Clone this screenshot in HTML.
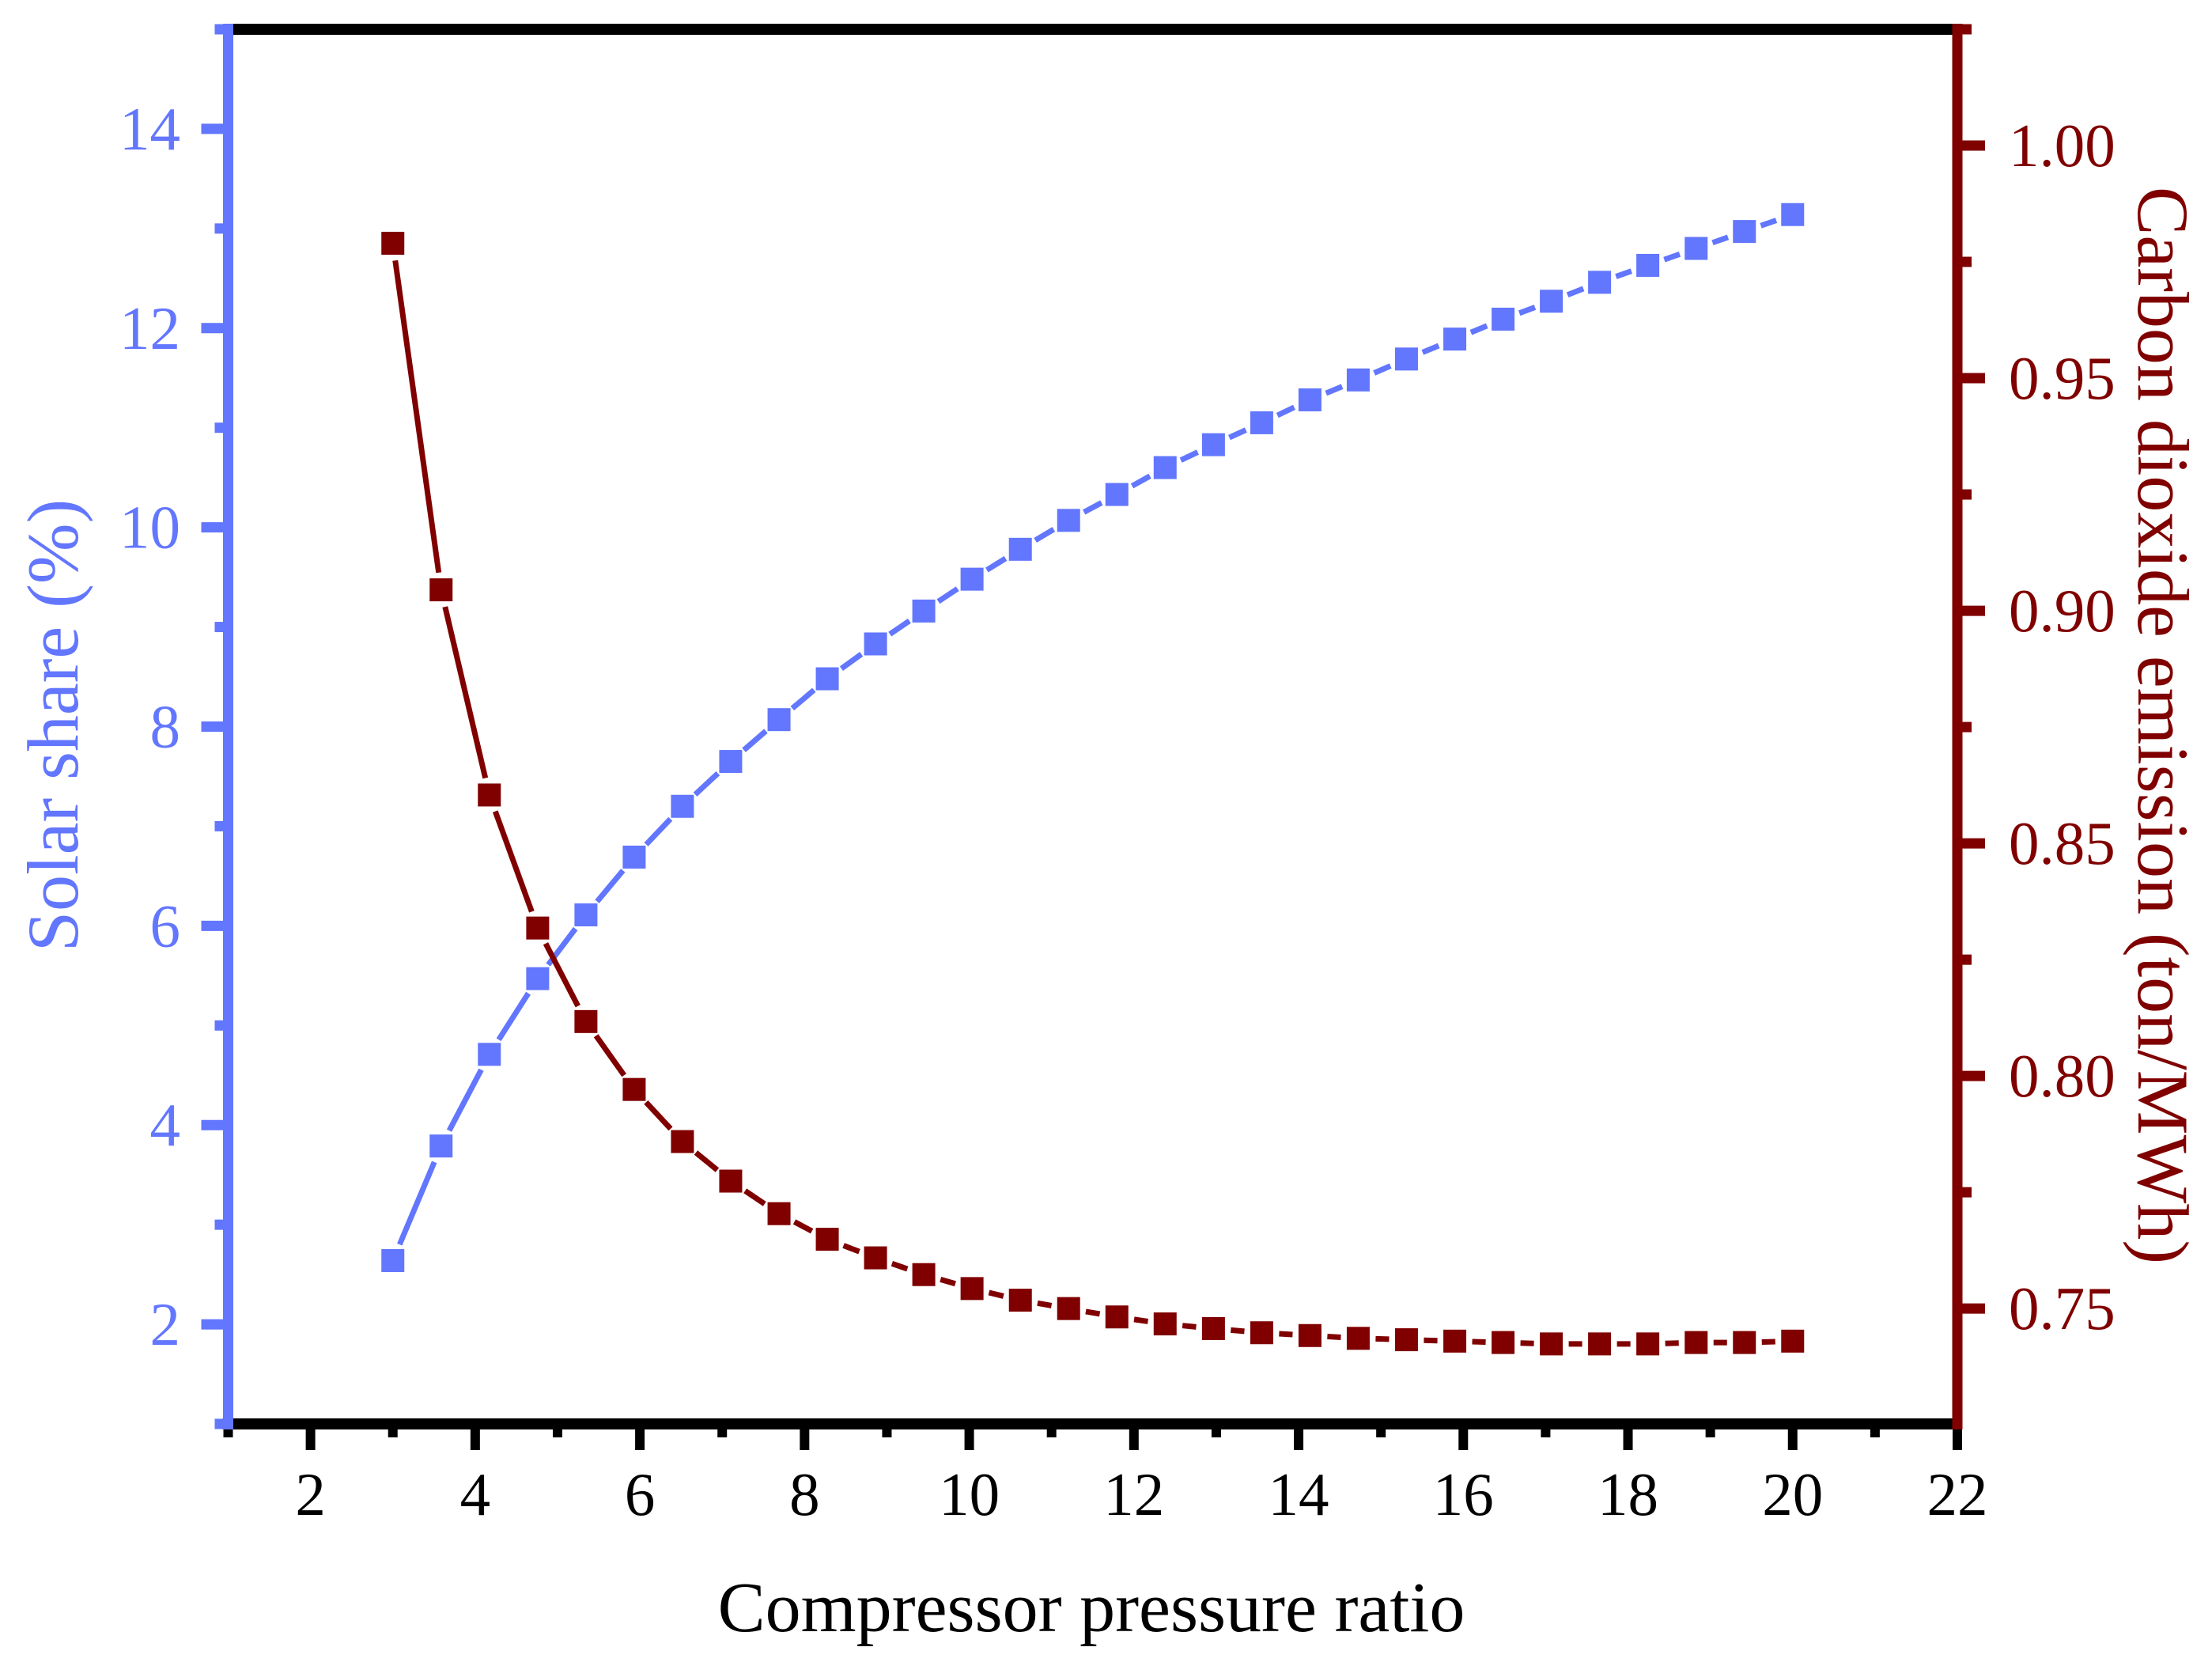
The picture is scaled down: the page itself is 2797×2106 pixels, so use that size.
<!DOCTYPE html>
<html><head><meta charset="utf-8"><style>
html,body{margin:0;padding:0;background:#fff}
svg{display:block}
text{font-family:"Liberation Serif",serif}
</style></head><body>
<svg id="chart" xmlns="http://www.w3.org/2000/svg" width="2797" height="2106" viewBox="0 0 2797 2106">
<g id="axes"></g>
<g id="series"></g>
<text x="1380" y="2062" font-size="90" text-anchor="middle" fill="#000">Compressor pressure ratio</text>
<text transform="translate(98,917) rotate(-90)" font-size="92" text-anchor="middle" fill="#6276fe">Solar share (%)</text>
<text transform="translate(2704,917) rotate(90)" font-size="92" text-anchor="middle" fill="#800000">Carbon dioxide emission (ton/MWh)</text>
</svg>
<script>
const xTicks = [2,4,6,8,10,12,14,16,18,20,22];
const leftTicks = [2,4,6,8,10,12,14];
const rightTicks = [0.75,0.80,0.85,0.90,0.95,1.00];
const pressureRatio = [3,3.586,4.172,4.759,5.345,5.931,6.517,7.103,7.690,8.276,8.862,9.448,10.034,10.621,11.207,11.793,12.379,12.966,13.552,14.138,14.724,15.310,15.897,16.483,17.069,17.655,18.241,18.828,19.414,20];
const solarShare = [2.64,3.79,4.71,5.47,6.11,6.69,7.20,7.65,8.07,8.48,8.83,9.16,9.48,9.78,10.07,10.33,10.60,10.83,11.05,11.28,11.48,11.69,11.89,12.09,12.27,12.46,12.63,12.80,12.97,13.14];
const co2Emission = [0.979,0.9045,0.8604,0.8318,0.8117,0.7971,0.7859,0.7774,0.7704,0.7649,0.7609,0.7573,0.7543,0.7518,0.7500,0.7482,0.7467,0.7457,0.7448,0.7442,0.7436,0.7433,0.7430,0.7427,0.7424,0.7424,0.7424,0.7427,0.7427,0.7430];

const NS='http://www.w3.org/2000/svg';
const X0=288.5, X1=2475, XMIN=1, XMAX=22;
const Y0=1800, Y1=37;
const LMIN=1, LMAX=15, RMIN=0.7252, RMAX=1.025;
const BLUE='#6276fe', RED='#800000';
function sx(v){return X0+(v-XMIN)/(XMAX-XMIN)*(X1-X0);}
function sl(v){return Y0-(v-LMIN)/(LMAX-LMIN)*(Y0-Y1);}
function sr(v){return Y0-(v-RMIN)/(RMAX-RMIN)*(Y0-Y1);}
function mk(tag,attrs,parent){const e=document.createElementNS(NS,tag);for(const k in attrs)e.setAttribute(k,attrs[k]);parent.appendChild(e);return e;}
const axes=document.getElementById('axes');
const series=document.getElementById('series');

let e;
e=mk('line',{x1:X0,y1:Y1,x2:X1,y2:Y1,stroke:'#000','stroke-width':14},axes);


e=mk('line',{x1:X0-7,y1:Y0,x2:X1,y2:Y0,stroke:'#000','stroke-width':14},axes);


e=mk('line',{x1:X0,y1:Y1-7,x2:X0,y2:Y0+7,stroke:BLUE,'stroke-width':13},axes);


e=mk('line',{x1:X1,y1:Y1-7,x2:X1,y2:Y0+7,stroke:RED,'stroke-width':13},axes);



for(let v=XMIN; v<=XMAX; v++){
  const major = xTicks.indexOf(v)>=0;
  e=mk('line',{x1:sx(v),y1:Y0+7,x2:sx(v),y2:Y0+(major?33:17),stroke:'#000','stroke-width':12},axes);
  
  
}
xTicks.forEach(v=>{
  e=mk('text',{x:sx(v),y:1915,'font-size':77,'text-anchor':'middle',fill:'#000'},axes);
  e.textContent=v;
  
  
});
for(let v=LMIN; v<=LMAX; v++){
  const major = leftTicks.indexOf(v)>=0;
  e=mk('line',{x1:X0-6,y1:sl(v),x2:X0-(major?34:17),y2:sl(v),stroke:BLUE,'stroke-width':13},axes);
  
  
}
leftTicks.forEach(v=>{
  e=mk('text',{x:228,y:sl(v)+26,'font-size':77,'text-anchor':'end',fill:BLUE},axes);
  e.textContent=v;
  
  
});
for(let i=0;i<=11;i++){
  const v=0.75+i*0.025;
  if(v>RMAX) break;
  const major = i%2===0;
  e=mk('line',{x1:X1+6,y1:sr(v),x2:X1+(major?35:18),y2:sr(v),stroke:RED,'stroke-width':13},axes);
  
  
}
rightTicks.forEach(v=>{
  e=mk('text',{x:2540,y:sr(v)+26,'font-size':77,'text-anchor':'start',fill:RED},axes);
  e.textContent=v.toFixed(2);
  
  
});

function drawSeries(ys, scale, color, name){
  const pts = pressureRatio.map((x,i)=>[sx(x),scale(ys[i])]);
  for(let i=0;i<pts.length-1;i++){
    const [ax,ay]=pts[i],[bx,by]=pts[i+1];
    const dx=bx-ax, dy=by-ay, L=Math.hypot(dx,dy), g=22;
    if(L<=2*g) continue;
    const ux=dx/L, uy=dy/L;
    e=mk('line',{x1:ax+ux*g,y1:ay+uy*g,x2:bx-ux*g,y2:by-uy*g,stroke:color,'stroke-width':7},series);
    
    
  }
  pts.forEach(([x,y])=>{
    e=mk('rect',{x:x-14.5,y:y-14.5,width:29,height:29,fill:color},series);
    
    
  });
}
drawSeries(solarShare, sl, BLUE, 'solar-share');
drawSeries(co2Emission, sr, RED, 'co2-emission');
</script>
</body></html>
